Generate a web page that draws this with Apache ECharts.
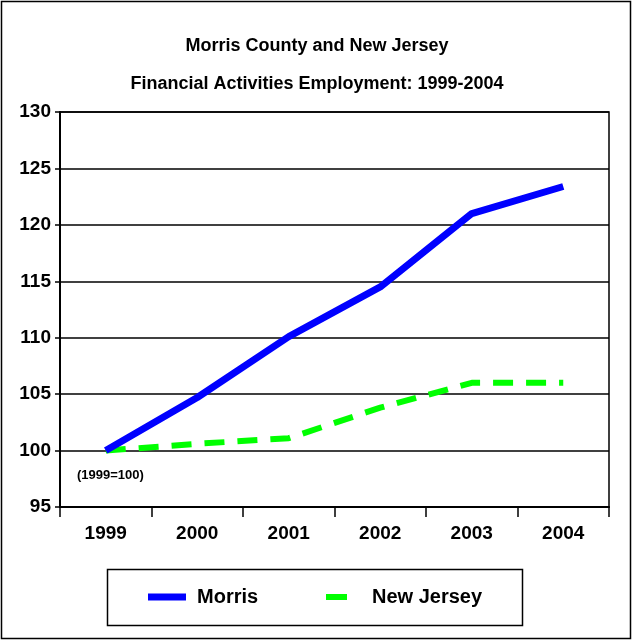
<!DOCTYPE html>
<html><head><meta charset="utf-8">
<script src="https://cdn.jsdelivr.net/npm/echarts@6/dist/echarts.min.js"></script>
<style>html,body{margin:0;padding:0;background:#fff}#c{width:634px;height:641px}</style>
</head><body><div id="c"></div>
<script>
const years = ['1999','2000','2001','2002','2003','2004'];
const morris = [100, 104.7, 110.1, 114.5, 121.0, 123.4];
const newJersey = [100, 100.6, 101.1, 103.8, 106.0, 106.0];
const yTicks = [95, 100, 105, 110, 115, 120, 125, 130];
const FONT = '"Liberation Sans", Arial, sans-serif';

const chart = echarts.init(document.getElementById('c'), null, {renderer:'canvas'});
chart.setOption({
  animation: false,
  backgroundColor: '#fff',
  textStyle: {fontFamily: FONT},
  title: {
    text: 'Morris County and New Jersey\nFinancial Activities Employment: 1999-2004',
    left: 'center', top: 22,
    textStyle: {fontFamily: FONT, fontSize: 18, fontWeight: 'bold', color: '#000', lineHeight: 38}
  },
  grid: {left: 60, right: 25, top: 112, bottom: 134, show: true, borderColor: '#000', borderWidth: 1.5, containLabel: false},
  xAxis: {
    type: 'category', data: years, boundaryGap: true,
    axisLine: {lineStyle: {color: '#000', width: 2}},
    axisTick: {show: true, length: 10, interval: 0, lineStyle: {color: '#000', width: 1.5}},
    axisLabel: {margin: 17, fontSize: 19, fontWeight: 'bold', color: '#000', fontFamily: FONT}
  },
  yAxis: {
    type: 'value', min: yTicks[0], max: yTicks[yTicks.length-1], interval: 5,
    axisLine: {show: true, lineStyle: {color: '#000', width: 2}},
    axisTick: {show: true, length: 5, lineStyle: {color: '#000', width: 1.5}},
    axisLabel: {margin: 9, fontSize: 19, fontWeight: 'bold', color: '#000', fontFamily: FONT},
    splitLine: {show: true, lineStyle: {color: '#000', width: 1.5}}
  },
  legend: [
    {data: [{name: 'Morris', icon: 'rect'}], left: 148, top: 587, itemWidth: 38, itemHeight: 7, padding: 0,
     textStyle: {fontSize: 20, fontWeight: 'bold', color: '#000', fontFamily: FONT, padding: [0,0,0,6]}},
    {data: [{name: 'New Jersey', icon: 'rect'}], left: 326, top: 587, itemWidth: 21, itemHeight: 6, padding: 0,
     textStyle: {fontSize: 20, fontWeight: 'bold', color: '#000', fontFamily: FONT, padding: [0,0,0,20]}}
  ],
  graphic: [
    {type: 'rect', shape: {x: 1.5, y: 1.5, width: 629, height: 637}, style: {fill: null, stroke: '#000', lineWidth: 1.5}, silent: true},
    {type: 'rect', shape: {x: 107.5, y: 569.5, width: 415, height: 56}, style: {fill: null, stroke: '#000', lineWidth: 1.5}, silent: true},
    {type: 'text', left: 77, top: 469, style: {text: '(1999=100)', fontSize: 13, fontWeight: 'bold', fill: '#000', fontFamily: FONT}}
  ],
  series: [
    {name: 'Morris', type: 'line', data: morris, symbol: 'none', color: '#0000ff',
     lineStyle: {color: '#0000ff', width: 7}, itemStyle: {color: '#0000ff'}, z: 3},
    {name: 'New Jersey', type: 'line', data: newJersey, symbol: 'none', color: '#00ff00',
     lineStyle: {color: '#00ff00', width: 6, type: [20, 13]}, itemStyle: {color: '#00ff00'}, z: 2}
  ]
});
</script></body></html>
